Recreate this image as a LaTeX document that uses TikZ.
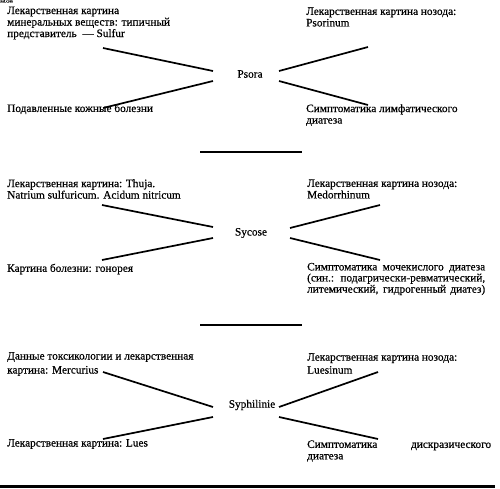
\documentclass[tikz,border=0pt]{standalone}
\usepackage{fontspec}
\setmainfont{Liberation Serif}[FakeBold=0.5]
\begin{document}
\begin{tikzpicture}[x=1pt,y=-1pt,
  txt/.style={anchor=west, inner sep=0pt, align=left, font=\fontsize{11.3}{11.5}\selectfont},
  lbl/.style={inner sep=0pt, font=\fontsize{11.3}{12}\selectfont},
  conn/.style={line width=1.7pt},
  sep/.style={line width=1.4pt}]
\useasboundingbox (0,0) rectangle (500,488);
% watermark
\node[anchor=north west, inner sep=0pt, font=\fontsize{4}{4}\selectfont] (wm) at (0,0) {xat.com};
% ---------------- Psora
\node[lbl] (psora) at (250,74) {Psora};
\node[txt] (a1) at (7,23) {Лекарственная картина\\минеральных веществ: типичный\\представитель\ \ --- Sulfur};
\node[txt] (a2) at (7,109) {Подавленные кожные болезни};
\node[txt] (a3) at (306,17) {Лекарственная картина нозода:\\Psorinum};
\node[txt] (a4) at (306,115) {Симптоматика лимфатического\\диатеза};
\coordinate (a1e) at (103,48);
\coordinate (a2e) at (103,108);
\coordinate (a3e) at (368,47);
\coordinate (a4e) at (368,105);
\coordinate (pl1) at (213,71);
\coordinate (pl2) at (213,81);
\coordinate (pr1) at (279,71);
\coordinate (pr2) at (279,81);
\draw[conn] (a1e) -- (pl1);
\draw[conn] (pl2) -- (a2e);
\draw[conn] (pr1) -- (a3e);
\draw[conn] (pr2) -- (a4e);
\coordinate (s1a) at (200,152);
\coordinate (s1b) at (302,152);
\draw[sep] (s1a) -- (s1b);
% ---------------- Sycose
\node[lbl] (sycose) at (251,233) {Sycose};
\node[txt] (b1) at (7,189) {Лекарственная картина: Thuja.\\Natrium sulfuricum. Acidum nitricum};
\node[txt] (b2) at (7,269) {Картина болезни: гонорея};
\node[txt] (b3) at (307,189) {Лекарственная картина нозода:\\Medorrhinum};
\node[txt, font=\fontsize{11.3}{10}\selectfont] (b4) at (307,279) {\makebox[178pt][s]{Симптоматика мочекислого диатеза}\\\makebox[178pt][s]{(син.:\ \ подагрически-ревматический,}\\\makebox[178pt][s]{литемический, гидрогенный диатез)}};
\coordinate (b1e) at (102,205);
\coordinate (b2e) at (102,260);
\coordinate (b3e) at (380,205);
\coordinate (b4e) at (380,260);
\coordinate (sl1) at (213,227);
\coordinate (sl2) at (213,238);
\coordinate (sr1) at (290,228);
\coordinate (sr2) at (290,238);
\draw[conn] (b1e) -- (sl1);
\draw[conn] (sl2) -- (b2e);
\draw[conn] (sr1) -- (b3e);
\draw[conn] (sr2) -- (b4e);
\coordinate (s2a) at (200,325);
\coordinate (s2b) at (302,325);
\draw[sep] (s2a) -- (s2b);
% ---------------- Syphilinie
\node[lbl] (syph) at (252,405) {Syphilinie};
\node[txt, font=\fontsize{11.3}{14}\selectfont] (c1) at (7,364) {Данные токсикологии и лекарственная\\картина: Mercurius};
\node[txt] (c2) at (7,444) {Лекарственная картина: Lues};
\node[txt, font=\fontsize{11.3}{13}\selectfont] (c3) at (307,363.5) {Лекарственная картина нозода:\\Luesinum};
\node[txt] (c4) at (307,451) {\makebox[178pt][s]{Симптоматика \hspace{30pt} дискразического}\\диатеза};
\coordinate (c1e) at (103,372);
\coordinate (c2e) at (103,439);
\coordinate (c3e) at (378,372);
\coordinate (c4e) at (378,439);
\coordinate (yl1) at (213,407);
\coordinate (yl2) at (213,417);
\coordinate (yr1) at (279,407);
\coordinate (yr2) at (279,417);
\draw[conn] (c1e) -- (yl1);
\draw[conn] (yl2) -- (c2e);
\draw[conn] (yr1) -- (c3e);
\draw[conn] (yr2) -- (c4e);
\coordinate (bla) at (0,486);
\coordinate (blb) at (495,486);
\draw[line width=3pt] (bla) -- (blb);
\end{tikzpicture}
\end{document}
